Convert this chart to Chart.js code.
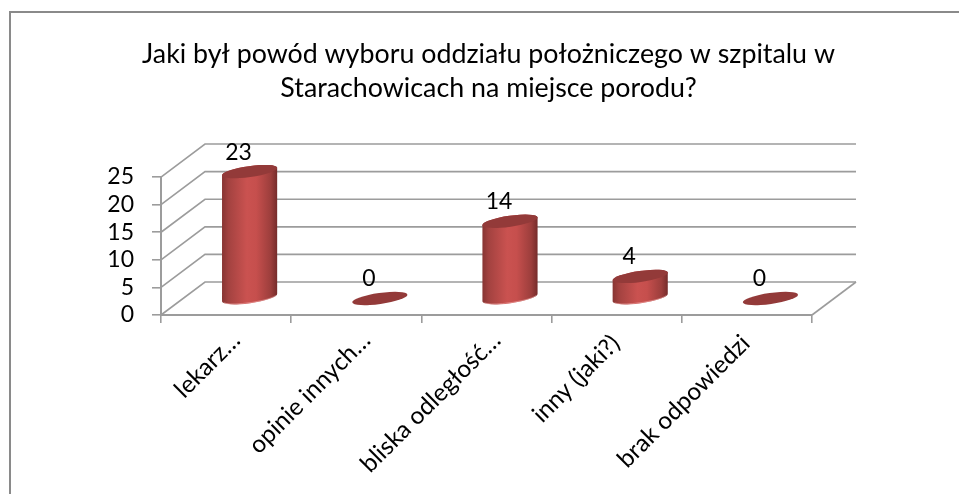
<!DOCTYPE html>
<html lang="pl">
<head>
<meta charset="utf-8">
<title>Powód wyboru oddziału</title>
<script src="https://cdn.jsdelivr.net/npm/chart.js@4"></script>
<style>
  html, body { margin: 0; padding: 0; background: #fff; }
  canvas { display: block; }
</style>
</head>
<body>
<canvas id="chart" width="959" height="494"></canvas>
<script>
const titleLines = [
  "Jaki był powód wyboru oddziału położniczego w szpitalu w",
  "Starachowicach na miejsce porodu?",
];
const categories = ["lekarz…", "opinie innych…", "bliska odległość…", "inny (jaki?)", "brak odpowiedzi"];
const values = [23, 0, 14, 4, 0];
const yMax = 25;
const yStep = 5;

const FONT = "Lato, Carlito, sans-serif";
const DEPTH_X = 44;
const DEPTH_Y = 33;
const GRID = "#9c9c9c";

// back wall + floor, the picture is a fake 3D so the scales give the front edge
const wallsPlugin = {
  id: "walls",
  beforeDatasetsDraw(chart) {
    const { ctx, scales: { x, y } } = chart;
    ctx.save();
    ctx.strokeStyle = GRID;
    ctx.lineWidth = 1.6;
    for (let v = 0; v <= yMax; v += yStep) {
      const py = y.getPixelForValue(v);
      ctx.beginPath();
      ctx.moveTo(x.left, py);
      ctx.lineTo(x.left + DEPTH_X, py - DEPTH_Y);
      ctx.lineTo(x.right + DEPTH_X, py - DEPTH_Y);
      ctx.stroke();
    }
    const py0 = y.getPixelForValue(0);
    ctx.beginPath();
    ctx.moveTo(x.right, py0);
    ctx.lineTo(x.right + DEPTH_X, py0 - DEPTH_Y);
    ctx.stroke();
    ctx.restore();
  },
};

// cylinders are drawn over the (transparent) bar elements
const cylinderPlugin = {
  id: "cylinders",
  afterDatasetsDraw(chart) {
    const { ctx } = chart;
    const tilt = -8 * Math.PI / 180;
    chart.getDatasetMeta(0).data.forEach((bar, i) => {
      const cx = bar.x + DEPTH_X / 2 + 1.5;
      const top = bar.y - DEPTH_Y / 2;
      const bottom = bar.base - DEPTH_Y / 2;
      const a = bar.width / 2 + 0.5;
      const b = 5.5;
      ctx.save();
      if (values[i] > 0) {
        const g = ctx.createLinearGradient(cx - a, 0, cx + a, 0);
        g.addColorStop(0, "#863432");
        g.addColorStop(0.12, "#a34240");
        g.addColorStop(0.45, "#ca5250");
        g.addColorStop(0.62, "#c64f4d");
        g.addColorStop(0.88, "#9c3e3c");
        g.addColorStop(1, "#742b2a");
        ctx.beginPath();
        ctx.ellipse(cx, bottom, a, b, tilt, 0, Math.PI);
        ctx.ellipse(cx, top, a, b, tilt, Math.PI, Math.PI * 2);
        ctx.closePath();
        ctx.fillStyle = g;
        ctx.fill();
        ctx.beginPath();
        ctx.ellipse(cx, bottom, a - 0.5, b - 0.5, tilt, 0.3, Math.PI - 0.3);
        ctx.strokeStyle = "rgba(240,170,168,0.55)";
        ctx.lineWidth = 1;
        ctx.stroke();
      }
      ctx.beginPath();
      ctx.ellipse(cx, top, a, b, tilt, 0, Math.PI * 2);
      ctx.fillStyle = "#933a39";
      ctx.fill();

      ctx.fillStyle = "#000";
      ctx.font = "23px " + FONT;
      ctx.textAlign = "center";
      ctx.textBaseline = "middle";
      ctx.fillText(String(values[i]), cx - 11, top - 19.5);
      ctx.restore();
    });
  },
};

// labels that are not cut off with "…" end closer to their tick in the original
const tickNudge = {
  id: "tickNudge",
  afterUpdate(chart) {
    chart.scales.x.getLabelItems(chart.chartArea).forEach((item) => {
      if (!item.label.endsWith("…")) {
        item.options.translation[0] -= 11;
        item.options.translation[1] += 3;
      }
    });
  },
};

const frameBorder = {
  id: "frameBorder",
  beforeDraw(chart) {
    const { ctx, width, height } = chart;
    ctx.save();
    ctx.strokeStyle = "#8a8a8a";
    ctx.lineWidth = 2;
    ctx.beginPath();
    ctx.moveTo(10, height);
    ctx.lineTo(10, 12);
    ctx.lineTo(width, 12);
    ctx.stroke();
    ctx.restore();
  },
};

new Chart(document.getElementById("chart"), {
  type: "bar",
  data: {
    labels: categories,
    datasets: [{
      data: values,
      backgroundColor: "transparent",
      barPercentage: 0.42,
      categoryPercentage: 1,
    }],
  },
  options: {
    responsive: false,
    animation: false,
    layout: { padding: { left: 18, right: 0, top: 0, bottom: 0 } },
    plugins: {
      legend: { display: false },
      tooltip: { enabled: false },
      title: {
        display: true,
        text: titleLines,
        color: "#000",
        font: { family: FONT, size: 26.8, weight: "normal", lineHeight: 1.27 },
        padding: { top: 37, bottom: 72 },
      },
    },
    scales: {
      x: {
        grid: { drawOnChartArea: false, color: GRID, tickLength: 8, lineWidth: 1.6 },
        border: { color: GRID, width: 2 },
        ticks: {
          color: "#000",
          font: { family: FONT, size: 24.3 },
          minRotation: 45,
          maxRotation: 45,
          padding: 3,
          labelOffset: 10,
          autoSkip: false,
        },
        afterFit(s) { s.height = 179; },
      },
      y: {
        min: 0,
        max: yMax,
        grid: { drawOnChartArea: false, color: GRID, tickLength: 9, lineWidth: 1.6 },
        border: { color: GRID, width: 2 },
        ticks: { color: "#000", font: { family: FONT, size: 23 }, stepSize: yStep, padding: 18, autoSkip: false },
        afterFit(s) { s.width = 143; },
      },
      // empty spacer so the title stays centred on the whole frame, not on the plot
      spacer: {
        position: "right",
        grid: { display: false },
        border: { display: false },
        ticks: { display: false },
        afterFit(s) { s.width = 147; },
      },
    },
  },
  plugins: [frameBorder, wallsPlugin, cylinderPlugin, tickNudge],
});
</script>
</body>
</html>
